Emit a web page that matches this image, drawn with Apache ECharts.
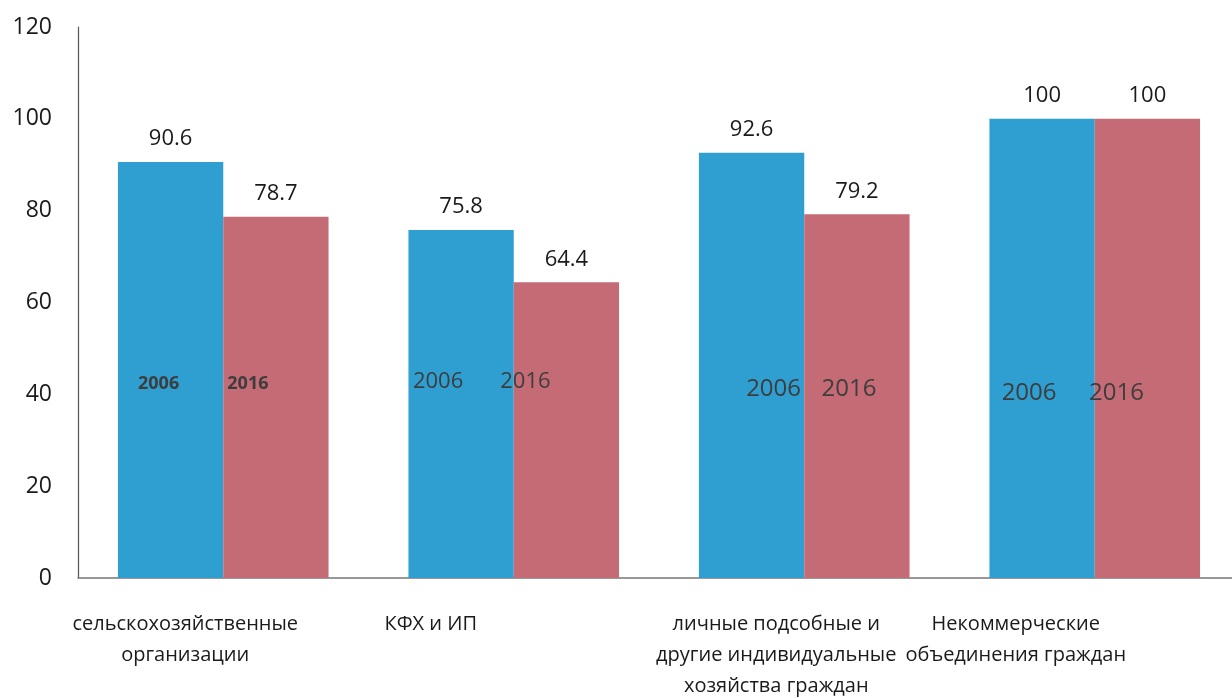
<!DOCTYPE html>
<html>
<head>
<meta charset="utf-8">
<script src="https://cdn.jsdelivr.net/npm/echarts@6/dist/echarts.min.js"></script>
<style>html,body{margin:0;padding:0;background:#fff;}#c{width:1232px;height:698px;}</style>
</head>
<body>
<div id="c"></div>
<script>
const categories = [
  'сельскохозяйственные\nорганизации',
  'КФХ и ИП',
  'личные подсобные и\nдругие индивидуальные\nхозяйства граждан',
  'Некоммерческие\nобъединения граждан'
];
const seriesNames = ['2006', '2016'];
const values2006 = [90.6, 75.8, 92.6, 100];
const values2016 = [78.7, 64.4, 79.2, 100];
const yTicks = [0, 20, 40, 60, 80, 100, 120];

// styling (positions of in-bar year labels, category label shifts)
const catLabelShift = [76, 166, 56, 158];
const yearLabelStyle2006 = [
  {dx: -12, cy: 384, size: 18, weight: 'bold'},
  {dx: -23, cy: 382, size: 22, weight: 'normal'},
  {dx: 22, cy: 389, size: 24, weight: 'normal'},
  {dx: -13, cy: 393, size: 24, weight: 'normal'}
];
const yearLabelStyle2016 = [
  {dx: -28, cy: 384, size: 18, weight: 'bold'},
  {dx: -41, cy: 382, size: 22, weight: 'normal'},
  {dx: -8, cy: 389, size: 24, weight: 'normal'},
  {dx: -31, cy: 393, size: 24, weight: 'normal'}
];
const BASE_Y = 578;
const FONT = '"Open Sans", "Noto Sans", sans-serif';
const BLUE = '#2f9fd2';
const RED = '#c56b76';

function yearData(vals, styles) {
  return vals.map((v, i) => ({
    value: v,
    label: {
      offset: [styles[i].dx, styles[i].cy - BASE_Y],
      fontSize: styles[i].size,
      fontWeight: styles[i].weight
    }
  }));
}

const chart = echarts.init(document.getElementById('c'));
const catAxisBase = {
  type: 'category',
  axisTick: {show: false}
};
chart.setOption({
  animation: false,
  backgroundColor: '#fff',
  grid: {left: 78, right: -8, top: 27, bottom: 120, containLabel: false, outerBoundsMode: 'none'},
  xAxis: [
    Object.assign({}, catAxisBase, {
      data: categories.map((c, i) => ({
        value: c,
        textStyle: {padding: [0, catLabelShift[i], 0, 0]}
      })),
      axisLine: {lineStyle: {color: '#777', width: 1.5}},
      axisLabel: {
        interval: 0, margin: 31, color: '#1a1a1a',
        fontFamily: FONT, fontSize: 20, lineHeight: 31, hideOverlap: false
      }
    }),
    Object.assign({}, catAxisBase, {
      data: categories,
      show: false
    })
  ],
  yAxis: {
    type: 'value', min: yTicks[0], max: yTicks[yTicks.length - 1], interval: 20,
    splitLine: {show: false},
    axisTick: {show: false},
    axisLine: {show: true, lineStyle: {color: '#555', width: 1.2}},
    axisLabel: {margin: 26, color: '#1a1a1a', fontFamily: FONT, fontSize: 23}
  },
  series: [
    {
      name: seriesNames[0], type: 'bar', xAxisIndex: 0, data: values2006,
      barGap: '0%', barCategoryGap: '27.5%',
      itemStyle: {color: BLUE},
      label: {show: true, position: 'top', distance: 12, color: '#1a1a1a', fontFamily: FONT, fontSize: 22}
    },
    {
      name: seriesNames[1], type: 'bar', xAxisIndex: 0, data: values2016,
      barGap: '0%', barCategoryGap: '27.5%',
      itemStyle: {color: RED},
      label: {show: true, position: 'top', distance: 12, color: '#1a1a1a', fontFamily: FONT, fontSize: 22}
    },
    {
      name: seriesNames[0] + ' label', type: 'bar', xAxisIndex: 1,
      data: yearData(values2006, yearLabelStyle2006),
      barGap: '0%', barCategoryGap: '27.5%',
      itemStyle: {color: 'rgba(0,0,0,0)'},
      silent: true,
      label: {show: true, position: 'insideBottom', distance: 0, verticalAlign: 'middle',
        formatter: () => seriesNames[0], color: '#3d3d3d', fontFamily: FONT}
    },
    {
      name: seriesNames[1] + ' label', type: 'bar', xAxisIndex: 1,
      data: yearData(values2016, yearLabelStyle2016),
      barGap: '0%', barCategoryGap: '27.5%',
      itemStyle: {color: 'rgba(0,0,0,0)'},
      silent: true,
      label: {show: true, position: 'insideBottom', distance: 0, verticalAlign: 'middle',
        formatter: () => seriesNames[1], color: '#3d3d3d', fontFamily: FONT}
    }
  ]
});
</script>
</body>
</html>
